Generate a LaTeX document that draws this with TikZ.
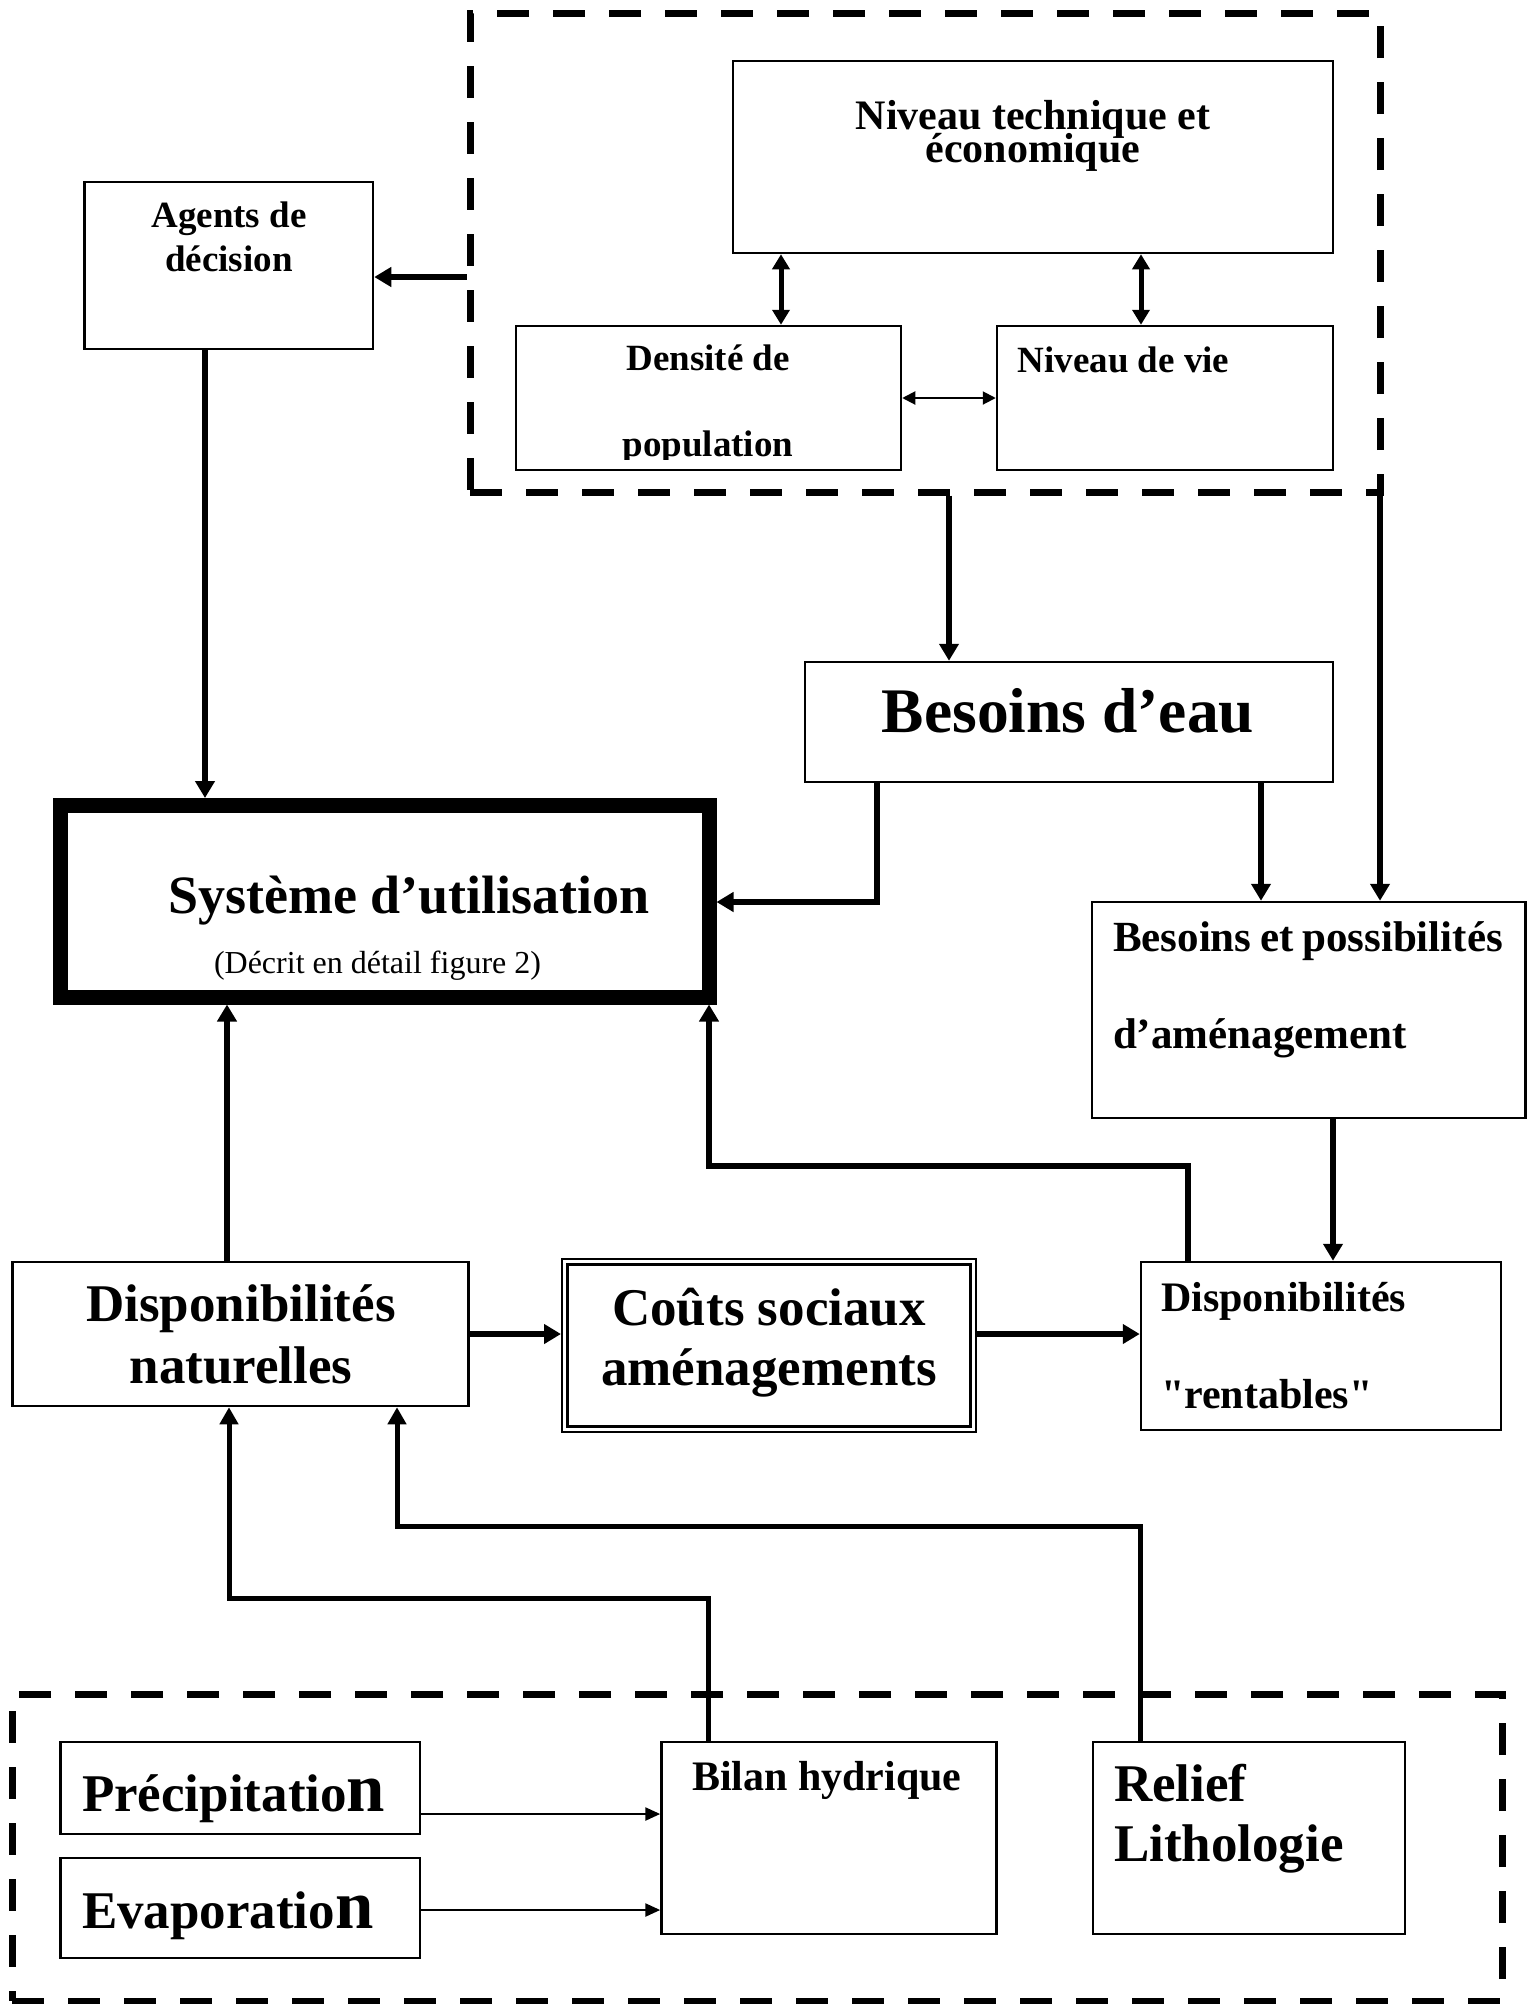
\documentclass[tikz,border=0pt]{standalone}
\usepackage{fontspec}
\setmainfont{Liberation Serif}
\newfontfamily\plainquotes{Liberation Serif}
\usetikzlibrary{arrows.meta}
\newcommand\myfs[1]{\fontsize{#1}{#1}\selectfont\bfseries}
\begin{document}
\begin{tikzpicture}[x=0.5pt,y=-0.5pt,
  box/.style={draw, line width=1.25pt, inner sep=0pt, rectangle},
  dbox/.style={draw, line width=3.5pt, dash pattern=on 16pt off 12pt, inner sep=0pt, rectangle},
  txt/.style={inner sep=0pt, outer sep=0pt, anchor=base},
  txw/.style={inner sep=0pt, outer sep=0pt, anchor=base west},
  arr/.style={line width=3pt, -{Triangle[length=8.5pt,width=9.5pt]}},
  arrb/.style={line width=2.5pt, -{Triangle[length=8.5pt,width=9pt]}},
  darr/.style={line width=2.5pt, {Triangle[length=7.5pt,width=8.5pt]}-{Triangle[length=7.5pt,width=8.5pt]}},
  tdarr/.style={line width=1pt, {Triangle[length=6.5pt,width=6.5pt]}-{Triangle[length=6.5pt,width=6.5pt]}},
  tarr/.style={line width=1.25pt, -{Triangle[length=7.5pt,width=6.5pt]}}
]
\useasboundingbox (0,0) rectangle (1532,2004);

% helper coordinates
\coordinate (x205) at (205,0);
\coordinate (x227) at (227,0);
\coordinate (x229) at (229,0);
\coordinate (x397) at (397,0);
\coordinate (x708) at (708.5,0);
\coordinate (x709) at (709,0);
\coordinate (x781) at (781,0);
\coordinate (x877) at (877,0);
\coordinate (x949) at (949,0);
\coordinate (x1140) at (1140,0);
\coordinate (x1141) at (1141,0);
\coordinate (x1188) at (1188,0);
\coordinate (x1261) at (1261,0);
\coordinate (x1333) at (1333,0);
\coordinate (x1380) at (1380,0);
\coordinate (y277) at (0,277);
\coordinate (y459) at (0,459);
\coordinate (y902) at (0,902);
\coordinate (y1165) at (0,1165.5);
\coordinate (y1334) at (0,1334);
\coordinate (y1526) at (0,1526);
\coordinate (y1598) at (0,1598);
\coordinate (y1814) at (0,1814);
\coordinate (y1910) at (0,1910);

% dashed groups
\node[dbox, minimum width=455pt, minimum height=239.5pt] (topdash) at (925,252.5) {};
\node[dbox, minimum width=745pt, minimum height=153.5pt] (botdash) at (757,1847.5) {};

% boxes
\node[box, minimum width=300pt, minimum height=96pt] (nte) at (1033,157) {};
\node[box, minimum width=144.25pt, minimum height=83.5pt] (agents) at (228.75,265.5) {};
\node[box, minimum width=192.5pt, minimum height=72pt] (dens) at (708.5,398) {};
\node[box, minimum width=168pt, minimum height=72pt] (vie) at (1165,398) {};
\node[box, minimum width=264pt, minimum height=60pt] (besoins) at (1069,722) {};
\node[box, line width=7.5pt, minimum width=324.2pt, minimum height=95.75pt] (sys) at (384.8,901.25) {};
\node[box, minimum width=216.8pt, minimum height=108pt] (bp) at (1308.8,1010) {};
\node[box, minimum width=228pt, minimum height=72pt] (dn) at (240.6,1334) {};
\node[box, line width=1pt, minimum width=206.75pt, minimum height=86.5pt] (couts) at (768.75,1345.5) {};
\draw[line width=1.5pt] ([shift={(3.25pt,-3.25pt)}]couts.north west) rectangle ([shift={(-3.25pt,3.25pt)}]couts.south east);
\node[box, minimum width=180pt, minimum height=84pt] (dr) at (1321,1346) {};
\node[box, minimum width=179.7pt, minimum height=46pt] (precip) at (240.3,1788) {};
\node[box, minimum width=179.7pt, minimum height=50pt] (evap) at (240.3,1908) {};
\node[box, minimum width=167.5pt, minimum height=96pt] (bilan) at (829,1838) {};
\node[box, minimum width=156pt, minimum height=96pt] (relief) at (1249,1838) {};

% texts
\node[txt, font=\myfs{21}] (nte1) at (1033,129) {Niveau technique et};
\node[txt, font=\myfs{21}] (nte2) at (1033,162) {économique};
\node[txt, font=\myfs{18.5}] (ag1) at (229,227) {Agents de};
\node[txt, font=\myfs{18.5}] (ag2) at (229,271) {décision};
\node[txt, font=\myfs{18.5}] (de1) at (708,370) {Densité de};
\begin{scope}
  \clip (dens.north west) rectangle (dens.east |- y459);
  \node[txt, font=\myfs{18.5}] (de2) at (708,456) {population};
\end{scope}
\node[txw, font=\myfs{18.5}] (vi1) at (1017.6,372) {Niveau de vie};
\node[txt, font=\myfs{31.75}] (be1) at (1068,732) {Besoins d’eau};
\node[txt, font=\myfs{27}] (sy1) at (409,913) {Système d’utilisation};
\node[txt, font=\fontsize{16}{16}\selectfont] (sy2) at (377.5,973) {(Décrit en détail figure 2)};
\node[txw, font=\myfs{21.5}] (bp1) at (1113,951.7) {\makebox[195pt][s]{Besoins et possibilités}};
\node[txw, font=\myfs{21.5}] (bp2) at (1113,1048) {d’aménagement};
\node[txt, font=\myfs{26.5}] (dn1) at (241,1321.7) {Disponibilités};
\node[txt, font=\myfs{26.5}] (dn2) at (241,1383) {naturelles};
\node[txt, font=\myfs{26.5}] (co1) at (769,1325) {Coûts sociaux};
\node[txt, font=\myfs{26.5}] (co2) at (769,1385.7) {aménagements};
\node[txw, font=\myfs{21}] (dr1) at (1161,1311.7) {Disponibilités};
\node[txw, font=\plainquotes\myfs{21}] (dr2) at (1161,1408) {"rentables"};
\node[txw, font=\myfs{26.5}] (pr1) at (82,1811.7) {Précipitatio{\fontsize{34.5}{34.5}\selectfont n}};
\node[txw, font=\myfs{26.5}] (ev1) at (82,1928) {Evaporatio{\fontsize{34.5}{34.5}\selectfont n}};
\node[txw, font=\myfs{21}] (bi1) at (692,1790.7) {Bilan hydrique};
\node[txw, font=\myfs{26.5}] (re1) at (1114,1801.7) {Relief};
\node[txw, font=\myfs{26.5}] (re2) at (1114,1861.7) {Lithologie};

% connectors
\draw[arr] (topdash.west |- y277) -- (agents.east |- y277);
\draw[arr] (agents.south -| x205) -- (sys.north -| x205);
\draw[darr] (nte.south -| x781) -- (dens.north -| x781);
\draw[darr] (nte.south -| x1141) -- (vie.north -| x1141);
\draw[tdarr] (dens.east) -- (vie.west);
\draw[arr] (topdash.south -| x949) -- (besoins.north -| x949);
\draw[arr] (topdash.south -| x1380) -- (bp.north -| x1380);
\draw[arr] (besoins.south -| x877) |- (sys.east |- y902);
\draw[arr] (besoins.south -| x1261) -- (bp.north -| x1261);
\draw[arr] (bp.south -| x1333) -- (dr.north -| x1333);
\draw[arr] (dr.north -| x1188) |- (y1165 -| x709) -- (sys.south -| x709);
\draw[arr] (dn.north -| x227) -- (sys.south -| x227);
\draw[arr] (dn.east |- y1334) -- (couts.west |- y1334);
\draw[arr] (couts.east |- y1334) -- (dr.west |- y1334);
\draw[arrb] (bilan.north -| x708) |- (y1598 -| x229) -- (dn.south -| x229);
\draw[arrb] (relief.north -| x1140) |- (y1526 -| x397) -- (dn.south -| x397);
\draw[tarr] (precip.east |- y1814) -- (bilan.west |- y1814);
\draw[tarr] (evap.east |- y1910) -- (bilan.west |- y1910);
\end{tikzpicture}
\end{document}
